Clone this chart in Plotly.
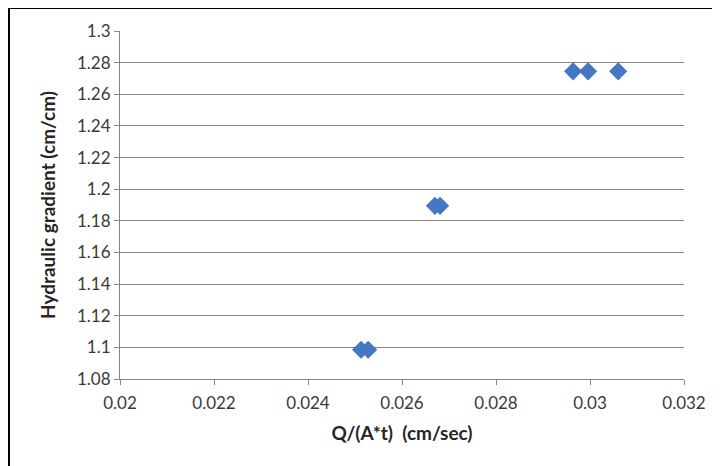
import plotly.graph_objects as go

x_vals = [0.02964, 0.02996, 0.03060, 0.02670, 0.02681, 0.02513, 0.02528]
y_vals = [1.2745, 1.2745, 1.2745, 1.1895, 1.1895, 1.0985, 1.0985]

x_ticks = [0.02, 0.022, 0.024, 0.026, 0.028, 0.03, 0.032]
x_labels = ["0.02", "0.022", "0.024", "0.026", "0.028", "0.03", "0.032"]
y_ticks = [1.08, 1.1, 1.12, 1.14, 1.16, 1.18, 1.2, 1.22, 1.24, 1.26, 1.28, 1.3]
y_labels = ["1.08", "1.1", "1.12", "1.14", "1.16", "1.18", "1.2", "1.22", "1.24", "1.26", "1.28", "1.3"]

x_title = "Q/(A*t)  (cm/sec)"
y_title = "Hydraulic gradient (cm/cm)"

fig = go.Figure()
fig.add_trace(go.Scatter(
    x=x_vals, y=y_vals, mode="markers",
    marker=dict(symbol="diamond", size=14, color="#4677C2", line=dict(width=0)),
    showlegend=False,
))

font = "Lato, 'Open Sans', sans-serif"
fig.update_layout(
    width=720, height=466,
    margin=dict(l=112, r=44, t=23, b=95),
    paper_bgcolor="white", plot_bgcolor="white",
    font=dict(family=font, size=17, color="#3a3a3a"),
    xaxis=dict(
        range=[0.02, 0.032], tickvals=x_ticks, ticktext=x_labels,
        showgrid=False, zeroline=False, showline=True, linecolor="#868686", linewidth=1,
        ticks="outside", ticklen=5, tickcolor="#868686", ticklabelstandoff=4,
        title=dict(text="<b>" + x_title + "</b>", font=dict(size=19, color="#262626"), standoff=14),
    ),
    yaxis=dict(
        range=[1.08, 1.3], tickvals=y_ticks, ticktext=y_labels,
        showgrid=True, gridcolor="#868686", gridwidth=1, zeroline=False,
        showline=True, linecolor="#868686", linewidth=1,
        ticks="outside", ticklen=5, tickcolor="#868686",
        title=dict(text="<b>" + y_title + "</b>", font=dict(size=19, color="#262626"), standoff=16),
    ),
    shapes=[
        dict(type="line", xref="paper", yref="paper", x0=-0.1968, x1=-0.1968, y0=-0.3, y1=1.0661,
             line=dict(color="black", width=2)),
        dict(type="line", xref="paper", yref="paper", x0=-0.1968, x1=1.07, y0=1.0661, y1=1.0661,
             line=dict(color="black", width=2)),
    ],
)

fig.write_html("out.html")
